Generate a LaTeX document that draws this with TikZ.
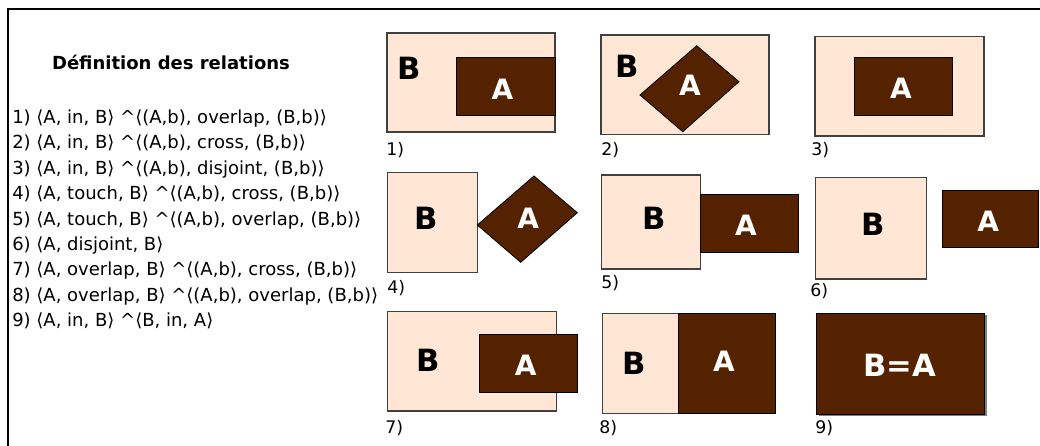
\documentclass[tikz,border=0pt]{standalone}
\usepackage{fontspec}
\setmainfont{DejaVu Sans}
\usetikzlibrary{positioning}
\definecolor{regionB}{HTML}{FFE6D5}
\definecolor{regionA}{HTML}{552200}

\begin{document}
\begin{tikzpicture}[
    x=0.75pt, y=-0.75pt,
    regB/.style={draw=black!75, fill=regionB, line width=0.8pt},
    regA/.style={draw=black, fill=regionA, line width=0.6pt},
    letB/.style={font=\fontsize{23}{23}\selectfont\bfseries, text=black},
    letA/.style={font=\fontsize{21}{21}\selectfont\bfseries, text=white},
    num/.style={font=\fontsize{13}{13}\selectfont, anchor=west, inner sep=0pt}
]
\useasboundingbox (0,0) rectangle (1040,446);

% Frame
\draw[line width=1.4pt] (8,446) -- (8,9) -- (1040,9);

% Legend
\node[font=\fontsize{13.5}{16}\selectfont\bfseries] (title) at (171,62) {Définition des relations};
\node[anchor=west, align=left, inner sep=0pt, font=\fontsize{13.5}{19.05}\selectfont] (rels) at (12,219.5) {
    1) ⟨A, in, B⟩ \textasciicircum⟨(A,b), overlap, (B,b)⟩\\
    2) ⟨A, in, B⟩ \textasciicircum⟨(A,b), cross, (B,b)⟩\\
    3) ⟨A, in, B⟩ \textasciicircum⟨(A,b), disjoint, (B,b)⟩\\
    4) ⟨A, touch, B⟩ \textasciicircum⟨(A,b), cross, (B,b)⟩\\
    5) ⟨A, touch, B⟩ \textasciicircum⟨(A,b), overlap, (B,b)⟩\\
    6) ⟨A, disjoint, B⟩\\
    7) ⟨A, overlap, B⟩ \textasciicircum⟨(A,b), cross, (B,b)⟩\\
    8) ⟨A, overlap, B⟩ \textasciicircum⟨(A,b), overlap, (B,b)⟩\\
    9) ⟨A, in, B⟩ \textasciicircum⟨B, in, A⟩
};

% 1)
\draw[regB] (387,33) rectangle (555,132);
\draw[regA] (456,57) rectangle (555,115);
\node[letB] (b1) at (409.5,68) {B};
\node[letA] (a1) at (502.5,89) {A};
\node[num] (n1) at (386,150) {1)};

% 2)
\draw[regB] (601,35) rectangle (769,134.5);
\draw[regA] (640,95) -- (696.7,45.7) -- (739,81.7) -- (682.7,131.7) -- cycle;
\node[letB] (b2) at (627,66.7) {B};
\node[letA] (a2) at (690,85) {A};
\node[num] (n2) at (601,150) {2)};

% 3)
\draw[regB] (815,36.7) rectangle (984,136);
\draw[regA] (854,57.5) rectangle (952,115.7);
\node[letA] (a3) at (901,88) {A};
\node[num] (n3) at (811,150) {3)};

% 4)
\draw[regB] (387.3,172.3) rectangle (477.3,272.7);
\draw[regA] (477.3,225) -- (534,176) -- (577.3,212.7) -- (520.7,262.3) -- cycle;
\node[letB] (b4) at (426,218.3) {B};
\node[letA] (a4) at (528.3,218.3) {A};
\node[num] (n4) at (387,288.3) {4)};

% 5)
\draw[regB] (601.7,175) rectangle (700.7,269);
\draw[regA] (700.7,194.3) rectangle (798.3,252.3);
\node[letB] (b5) at (654.3,218.3) {B};
\node[letA] (a5) at (746,225) {A};
\node[num] (n5) at (601,283.3) {5)};

% 6)
\draw[regB] (815.3,177.3) rectangle (926.7,279);
\draw[regA] (942.3,190) rectangle (1038,247.7);
\node[letB] (b6) at (873.3,224.3) {B};
\node[letA] (a6) at (988.3,221.7) {A};
\node[num] (n6) at (810,291) {6)};

% 7)
\draw[regB] (387.6,311.7) rectangle (556.4,411);
\draw[regA] (479.2,334) rectangle (577.5,392.3);
\node[letB] (b7) at (427.7,360) {B};
\node[letA] (a7) at (525.6,365) {A};
\node[num] (n7) at (385,428) {7)};

% 8)
\draw[regB] (602.4,313.3) rectangle (775.4,413.3);
\draw[regA] (678.3,313.3) rectangle (775.4,413.3);
\node[letB] (b8) at (634.4,363.3) {B};
\node[letA] (a8) at (723.9,361.7) {A};
\node[num] (n8) at (599,428.3) {8)};

% 9)
\fill[gray] (818.7,315.3) rectangle (986.6,416.3);
\draw[regA] (816.7,313.3) rectangle (984.6,414.3);
\node[letA, font=\fontsize{23}{23}\selectfont\bfseries] (ba9) at (899.8,365) {B=A};
\node[num] (n9) at (815,428.3) {9)};

\end{tikzpicture}
\end{document}
